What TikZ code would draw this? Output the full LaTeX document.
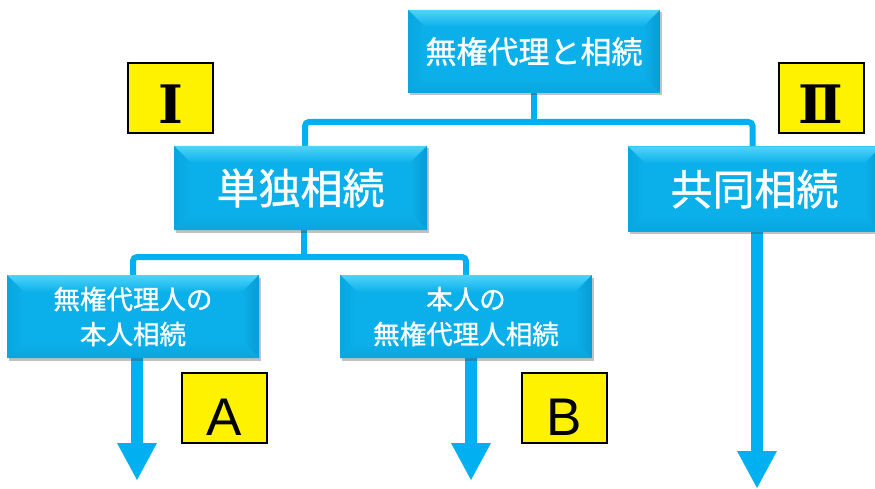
\documentclass[tikz,border=0pt]{standalone}
\usepackage{fontspec}
\newfontfamily\jp{Noto Sans CJK JP}[FakeBold=1]
\newfontfamily\lsans{Liberation Sans}
\newfontfamily\dserif{DejaVu Serif}
\usetikzlibrary{calc,shadows}
\definecolor{boxc}{HTML}{0BB0EA}
\definecolor{boxlt}{HTML}{4FD3FA}
\definecolor{boxdk}{HTML}{0A9BD3}
\definecolor{boxmd}{HTML}{09A6E0}
\definecolor{linec}{HTML}{00B0F0}
\pgfdeclarelayer{background}
\pgfsetlayers{background,main}
\newcommand\bigarrow[2]{%
  \fill[linec] let \p1=#1, \p2=#2 in
    (\x1-6pt,\y1) -- (\x1+6pt,\y1) -- (\x1+6pt,\y2+37pt) -- (\x1+20pt,\y2+37pt)
    -- (\x1,\y2) -- (\x1-20pt,\y2+37pt) -- (\x1-6pt,\y2+37pt) -- cycle;}
\tikzset{
  bbox/.style={inner sep=0pt, outer sep=0pt, text=white, align=center, fill=boxc,
    drop shadow={shadow xshift=1.5pt, shadow yshift=-2.5pt, opacity=0.35, fill=black!70},
    path picture={
      \coordinate (nw) at (path picture bounding box.north west);
      \coordinate (ne) at (path picture bounding box.north east);
      \coordinate (sw) at (path picture bounding box.south west);
      \coordinate (se) at (path picture bounding box.south east);
      \shade[top color=boxlt, bottom color=boxc] (nw) -- (ne) -- ($(ne)+(-17pt,-17pt)$) -- ($(nw)+(17pt,-17pt)$) -- cycle;
      \shade[left color=boxmd, right color=boxc] (nw) -- ($(nw)+(17pt,-17pt)$) -- ($(sw)+(17pt,17pt)$) -- (sw) -- cycle;
      \shade[left color=boxc, right color=boxdk] (ne) -- ($(ne)+(-17pt,-17pt)$) -- ($(se)+(-17pt,17pt)$) -- (se) -- cycle;
      \shade[top color=boxc, bottom color=boxmd] (sw) -- ($(sw)+(17pt,17pt)$) -- ($(se)+(-17pt,17pt)$) -- (se) -- cycle;
    }},
  conn/.style={draw=linec, line width=6pt, rounded corners=4pt},
  lab/.style={draw=black, line width=2pt, fill=yellow, minimum width=85pt, minimum height=70pt, inner sep=0pt, outer sep=0pt, text=black, text depth=0pt}
}
\begin{document}
\begin{tikzpicture}[x=1pt,y=-1pt]
\useasboundingbox (0,0) rectangle (875,489);
\node[bbox, minimum width=252pt, minimum height=83pt, font=\jp\fontsize{31}{36}\selectfont] (top) at (534,51.5) {無権代理と相続};
\node[bbox, minimum width=253pt, minimum height=84pt, font=\jp\fontsize{42}{48}\selectfont] (tan) at (300.5,188) {単独相続};
\node[bbox, minimum width=253pt, minimum height=85pt, font=\jp\fontsize{42}{48}\selectfont] (kyo) at (754.5,189) {共同相続};
\node[bbox, minimum width=252pt, minimum height=83pt, font=\jp\fontsize{26.5}{35}\selectfont] (hon) at (133,316.5) {無権代理人の\\本人相続};
\node[bbox, minimum width=252pt, minimum height=83pt, font=\jp\fontsize{26.5}{35}\selectfont] (muk) at (466,316.5) {本人の\\無権代理人相続};
\node[lab, text height=52pt, font=\dserif\bfseries\fontsize{53}{53}\selectfont] (l1) at (170.5,98) {Ⅰ};
\node[lab, text height=52pt, font=\dserif\bfseries\fontsize{53}{53}\selectfont] (l2) at (821,98) {Ⅱ};
\node[lab, text height=54pt, font=\lsans\fontsize{53}{53}\selectfont] (la) at (224.5,408) {A};
\node[lab, text height=54pt, font=\lsans\fontsize{53}{53}\selectfont] (lb) at (564.5,408) {B};
\coordinate (endA) at (137,480);
\coordinate (endB) at (471,480);
\coordinate (endC) at (757,488);
\begin{pgfonlayer}{background}
\draw[conn] (top.south) -- ++(0,29) coordinate (j1);
\draw[conn] ([xshift=4.5pt]tan.north) |- (j1) -| ([xshift=-2pt]kyo.north);
\draw[conn] ([xshift=3pt]tan.south) -- ++(0,27) coordinate (j2);
\draw[conn] (hon.north) |- (j2) -| (muk.north);
\bigarrow{([xshift=4pt]hon.south)}{(endA)}
\bigarrow{([xshift=5pt]muk.south)}{(endB)}
\bigarrow{([xshift=2.5pt]kyo.south)}{(endC)}
\end{pgfonlayer}
\end{tikzpicture}
\end{document}
